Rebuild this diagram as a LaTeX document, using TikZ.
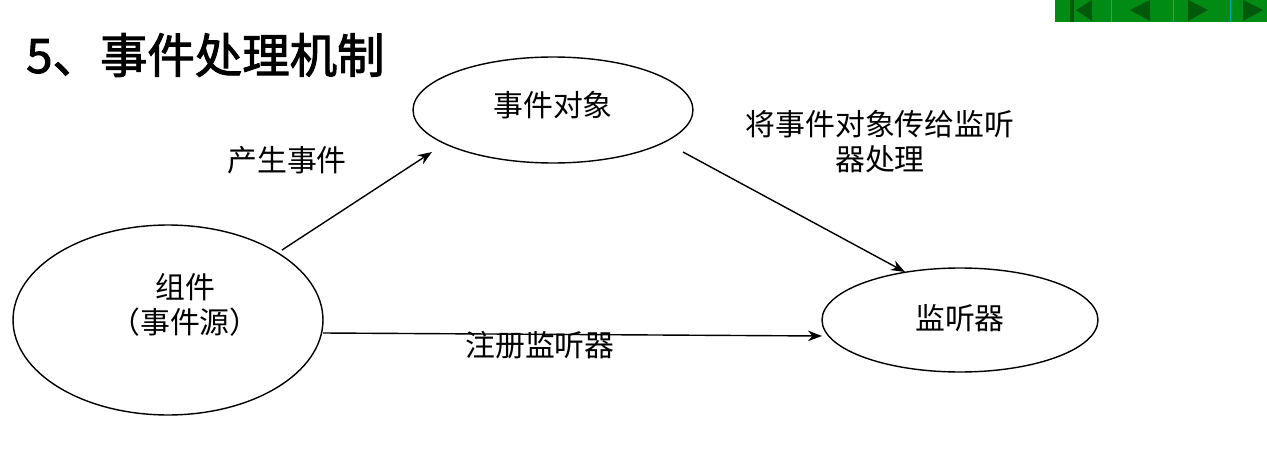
\documentclass[tikz,border=0pt]{standalone}
\usepackage{fontspec}
\newfontfamily\cjk{Noto Sans CJK SC}
\newfontfamily\cjkb{Noto Sans CJK SC}[FakeBold=2]
\usetikzlibrary{arrows.meta,shapes.geometric}
\definecolor{btn}{RGB}{0,140,20}
\definecolor{btnd}{RGB}{0,90,10}
\begin{document}
\begin{tikzpicture}[x=0.02cm,y=-0.02cm,
  ell/.style={draw,ellipse,line width=0.8pt,inner sep=0},
  lbl/.style={font=\cjk\fontsize{17}{20}\selectfont,align=center},
  arr/.style={-{Stealth[length=8pt,width=6pt]},line width=0.8pt}]
\useasboundingbox (0,0) rectangle (1267,459);
% nav bar
\fill[btn] (1055,0) rectangle (1267,22);
\foreach \xx in {1070,1111,1173,1230} \draw[cyan!60!green] (\xx,0) -- (\xx,22);
\fill[btnd] (1070,0) rectangle (1074,22);
\fill[btnd] (1092,0) -- (1076,10) -- (1092,21) -- cycle;
\fill[btnd] (1150,0) -- (1130,10) -- (1150,21) -- cycle;
\fill[btnd] (1188,0) -- (1208,10) -- (1188,21) -- cycle;
\fill[btnd] (1243,0) -- (1263,10) -- (1243,21) -- cycle;
% title
\node[anchor=west,font=\cjkb\fontsize{27}{30}\selectfont] (title) at (20,55) {5、事件处理机制};
% ellipses
\node[ell,minimum width=5.6cm,minimum height=2.12cm] (obj) at (553,110) {};
\node[ell,minimum width=6.2cm,minimum height=3.8cm] (srce) at (168,320) {};
\node[ell,minimum width=5.52cm,minimum height=2.08cm] (lise) at (960,320) {};
\node[lbl] (objt) at (553,105) {事件对象};
\node[lbl] (src) at (185,305) {组件\\（事件源）};
\node[lbl] (lis) at (960,318) {监听器};
\coordinate (a1) at (282,250); \coordinate (a2) at (432,152);
\coordinate (b1) at (683,152); \coordinate (b2) at (905,272);
\coordinate (c1) at (323,333); \coordinate (c2) at (822,336);
\draw[arr] (a1) -- (a2);
\draw[arr] (b1) -- (b2);
\draw[arr] (c1) -- (c2);
\node[lbl] (l1) at (287,160) {产生事件};
\node[lbl,align=center] (l2) at (880,142) {将事件对象传给监听\\器处理};
\node[lbl] (l3) at (540,345) {注册监听器};
\end{tikzpicture}
\end{document}
